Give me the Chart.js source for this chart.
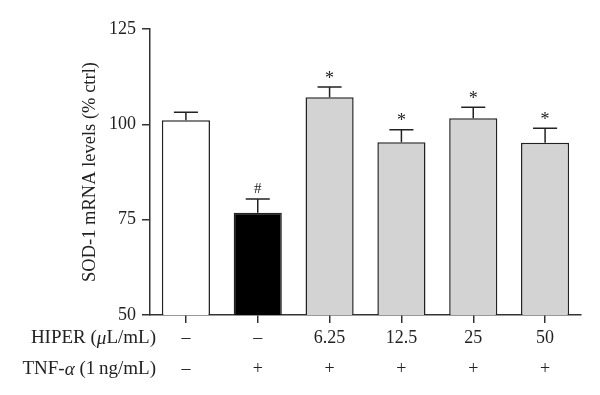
<!DOCTYPE html>
<html>
<head>
<meta charset="utf-8">
<script src="https://cdn.jsdelivr.net/npm/chart.js@4.4.1/dist/chart.umd.min.js"></script>
<style>
  body { margin: 0; background: #fff; }
</style>
</head>
<body>
<canvas id="sodChart" width="600" height="395"></canvas>
<script>
// valori
const hiperDose = ["\u2013", "\u2013", "6.25", "12.5", "25", "50"];
const tnfDose = ["\u2013", "+", "+", "+", "+", "+"];
const sodMean = [101.1, 76.8, 107.1, 95.3, 101.6, 95.2];
const sodErr = [2.1, 3.6, 2.7, 3.3, 2.9, 3.8];
const marks = ["", "#", "*", "*", "*", "*"];
const barColors = ["#ffffff", "#000000", "#d3d3d3", "#d3d3d3", "#d3d3d3", "#d3d3d3"];
const yTicks = [50, 75, 100, 125];

const FONT = "'Liberation Serif', 'Times New Roman', serif";
const TXT = "#222";

const erroriPlugin = {
  id: "errori",
  afterDatasetsDraw(chart) {
    const ctx = chart.ctx;
    const meta = chart.getDatasetMeta(0);
    const y = chart.scales.y;
    ctx.save();
    ctx.strokeStyle = "#222";
    ctx.lineWidth = 1.5;
    meta.data.forEach((bar, i) => {
      const yTop = y.getPixelForValue(sodMean[i]);
      const yErr = y.getPixelForValue(sodMean[i] + sodErr[i]);
      const half = bar.width / 4;
      ctx.beginPath();
      ctx.moveTo(bar.x, yTop);
      ctx.lineTo(bar.x, yErr);
      ctx.moveTo(bar.x - half, yErr);
      ctx.lineTo(bar.x + half, yErr);
      ctx.stroke();
      if (marks[i]) {
        ctx.fillStyle = TXT;
        ctx.font = (marks[i] === "*" ? "18px " : "15px ") + FONT;
        ctx.textAlign = "center";
        ctx.textBaseline = "middle";
        ctx.fillText(marks[i], bar.x, yErr - (marks[i] === "*" ? 8 : 10));
      }
    });
    ctx.restore();
  }
};

const righePlugin = {
  id: "righe",
  afterDraw(chart) {
    const ctx = chart.ctx;
    const x = chart.scales.x;
    const lh = 31;
    const y0 = x.top + 8 + lh / 2;
    const righe = [
      [["HIPER (", false], ["\u03bc", true], ["L/mL)", false]],
      [["TNF-", false], ["\u03b1", true], [" (1\u2009ng/mL)", false]]
    ];
    ctx.save();
    ctx.fillStyle = TXT;
    ctx.textBaseline = "middle";
    ctx.textAlign = "left";
    righe.forEach((pezzi, r) => {
      let w = 0;
      pezzi.forEach(p => {
        ctx.font = (p[1] ? "italic " : "") + "19px " + FONT;
        w += ctx.measureText(p[0]).width;
      });
      let cx = 156 - w;
      pezzi.forEach(p => {
        ctx.font = (p[1] ? "italic " : "") + "19px " + FONT;
        ctx.fillText(p[0], cx, y0 + r * lh);
        cx += ctx.measureText(p[0]).width;
      });
    });
    ctx.restore();
  }
};

new Chart(document.getElementById("sodChart"), {
  type: "bar",
  data: {
    labels: hiperDose.map((h, i) => [h, tnfDose[i]]),
    datasets: [{
      data: sodMean,
      backgroundColor: barColors,
      borderColor: "#222",
      borderWidth: 1.5,
      borderSkipped: false,
      categoryPercentage: 1,
      barPercentage: 0.67
    }]
  },
  options: {
    responsive: false,
    devicePixelRatio: 1,
    animation: false,
    layout: { padding: { left: 0, right: 19, top: 29, bottom: 0 } },
    plugins: { legend: { display: false }, tooltip: { enabled: false } },
    scales: {
      x: {
        afterFit(s) { s.height = 80; },
        grid: { display: true, offset: false, drawOnChartArea: false, drawTicks: true, tickLength: 8, color: "#333", lineWidth: 1.5 },
        border: { display: true, color: "#333", width: 1.5 },
        ticks: { color: TXT, padding: 0, maxRotation: 0, font: { family: FONT, size: 18, lineHeight: 31 / 18 } }
      },
      y: {
        min: 50,
        max: 125,
        afterFit(s) { s.width = 150; },
        afterBuildTicks(s) { s.ticks = yTicks.map(v => ({ value: v })); },
        grid: { display: true, drawOnChartArea: false, drawTicks: true, tickLength: 8, color: "#333", lineWidth: 1.5 },
        border: { display: true, color: "#333", width: 1.5 },
        ticks: { color: TXT, padding: 6, font: { family: FONT, size: 18 } },
        title: {
          display: true,
          text: "SOD-1 mRNA levels (% ctrl)",
          color: TXT,
          padding: { top: 79, bottom: 0 },
          font: { family: FONT, size: 18.5 }
        }
      }
    }
  },
  plugins: [erroriPlugin, righePlugin]
});
</script>
</body>
</html>
